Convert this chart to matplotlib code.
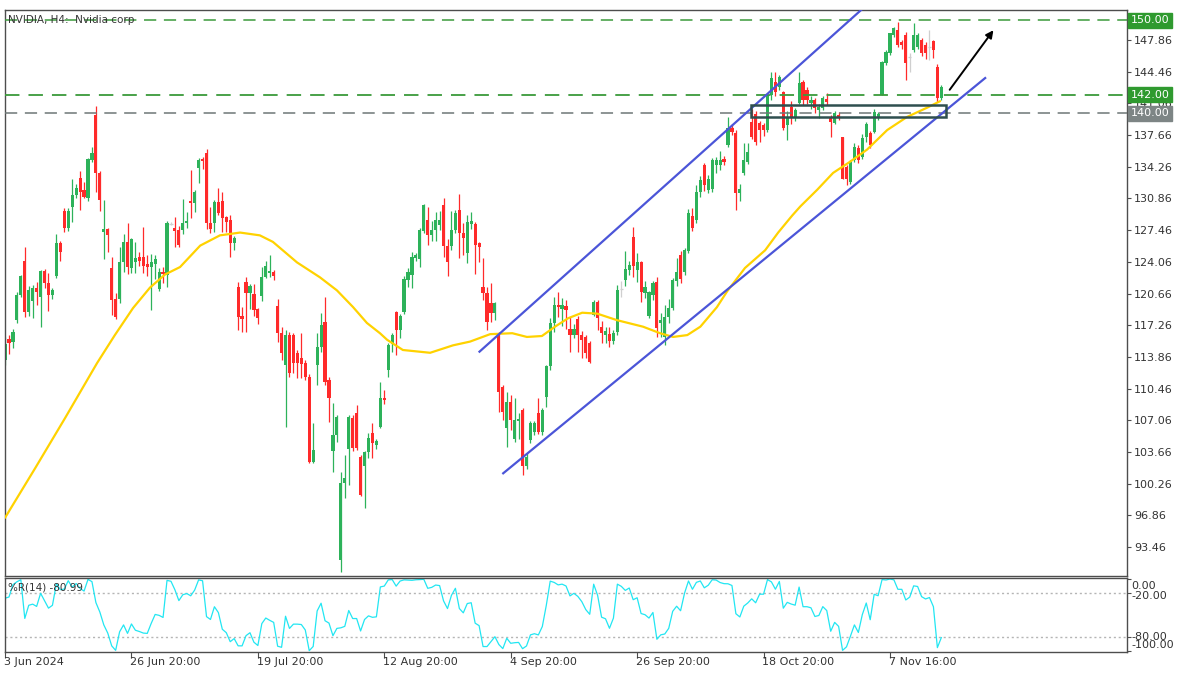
import numpy as np
import pandas as pd
import matplotlib
matplotlib.use("Agg")
import matplotlib.pyplot as plt
from matplotlib.patches import Rectangle

# NVIDIA H4 bars (bar index 0 = 3 Jun 2024 20:00)
opens = [113.5, 115.8, 115.5, 117.8, 120.5, 124.1, 118.7, 119.9, 121.3, 120.3,
         123.1, 121.8, 120.5, 122.5, 126.1, 129.5, 127.7, 129.9, 131.2, 133.1,
         131.8, 130.9, 135.0, 139.8, 133.6, 127.3, 127.6, 123.4, 120.1, 120.1,
         124.0, 126.2, 123.4, 124.0, 124.6, 124.6, 123.8, 123.5, 123.8, 121.1,
         123.0, 122.6, 128.1, 127.7, 127.5, 127.5, 128.2, 130.6, 130.4, 134.1,
         135.1, 135.7, 128.2, 128.2, 130.5, 130.6, 128.9, 128.5, 126.1, 121.4,
         118.2, 121.9, 120.7, 120.6, 119.0, 120.4, 122.4, 122.9, 123.0, 119.3,
         116.4, 113.0, 116.2, 116.2, 114.3, 113.7, 113.2, 111.7, 102.6, 113.0,
         114.9, 117.6, 111.4, 103.8, 105.5, 92.1, 100.3, 104.0, 107.3, 107.8,
         103.1, 102.1, 103.7, 105.7, 104.4, 106.3, 109.5, 112.5, 115.2, 118.7,
         116.7, 118.7, 122.1, 122.6, 124.5, 124.4, 127.4, 128.6, 126.9, 127.5,
         128.0, 130.2, 125.8, 125.8, 127.5, 129.6, 127.2, 125.0, 128.1, 128.1,
         126.1, 121.4, 120.7, 119.6, 118.6, 116.4, 110.6, 106.2, 109.0, 105.0,
         107.0, 108.2, 102.1, 104.9, 105.8, 107.8, 105.8, 109.6, 112.9, 117.5,
         119.4, 119.0, 119.3, 116.9, 116.2, 117.9, 116.2, 116.0, 115.4, 118.4,
         119.7, 117.1, 116.2, 116.3, 115.6, 116.5, 121.1, 122.1, 123.2, 126.7,
         123.2, 124.0, 120.7, 118.3, 120.5, 121.9, 117.5, 116.0, 118.1, 119.1,
         122.0, 124.8, 123.0, 125.2, 129.0, 128.5, 131.5, 134.4, 131.8, 131.9,
         134.4, 134.5, 135.1, 136.6, 138.4, 137.9, 131.4, 133.6, 134.8, 139.1,
         139.9, 139.0, 138.7, 138.2, 142.0, 143.4, 142.8, 142.3, 138.7, 140.7,
         139.6, 141.1, 143.4, 142.5, 141.1, 141.4, 140.4, 140.6, 141.5, 139.5,
         139.0, 139.8, 137.4, 134.2, 132.6, 135.0, 136.3, 135.3, 137.4, 137.9,
         138.0, 139.5, 142.0, 145.4, 146.5, 148.4, 148.9, 147.6, 148.4, 146.0,
         146.8, 147.1, 147.9, 147.3, 147.1, 147.8, 145.0, 141.6]
highs = [116.0, 116.2, 116.8, 120.8, 122.6, 125.6, 121.5, 121.6, 121.9, 123.2,
         123.3, 122.9, 121.3, 127.0, 126.3, 129.8, 129.8, 133.0, 132.4, 133.8,
         132.6, 135.2, 136.4, 140.8, 133.8, 130.7, 127.7, 124.6, 120.7, 125.6,
         127.0, 128.2, 126.6, 126.2, 125.1, 127.8, 124.8, 124.9, 124.8, 123.4,
         123.5, 128.4, 128.3, 128.9, 127.9, 130.8, 129.4, 133.9, 131.8, 135.2,
         135.3, 136.2, 129.9, 130.7, 132.0, 131.6, 129.0, 129.1, 126.8, 121.9,
         119.2, 122.4, 121.7, 121.7, 119.1, 123.5, 124.1, 124.8, 123.2, 120.1,
         117.1, 116.7, 116.5, 116.4, 114.6, 116.4, 113.5, 112.0, 106.8, 116.4,
         118.6, 120.3, 111.7, 108.9, 107.6, 101.5, 103.3, 107.6, 107.6, 108.7,
         103.3, 103.8, 105.7, 106.8, 105.0, 111.2, 110.3, 115.4, 116.4, 118.8,
         118.5, 122.5, 123.4, 125.1, 125.0, 127.7, 130.3, 129.9, 128.4, 129.4,
         129.5, 130.9, 126.5, 129.5, 129.6, 131.3, 128.2, 129.1, 129.4, 128.3,
         126.2, 124.5, 121.4, 121.8, 119.7, 116.5, 110.8, 110.1, 109.8, 109.5,
         107.8, 108.4, 103.6, 107.0, 107.0, 109.5, 108.4, 113.0, 118.0, 120.3,
         120.8, 120.2, 120.0, 118.1, 117.4, 118.3, 116.6, 116.2, 115.6, 120.0,
         120.0, 117.7, 117.1, 117.1, 116.7, 121.6, 122.0, 125.2, 124.2, 127.8,
         125.0, 124.2, 122.0, 120.9, 122.0, 122.4, 118.6, 119.4, 120.1, 122.3,
         124.5, 125.2, 125.5, 129.7, 129.8, 132.3, 133.3, 134.7, 133.4, 135.2,
         135.3, 135.9, 135.4, 139.6, 138.9, 138.2, 132.4, 136.8, 136.8, 140.5,
         140.2, 139.2, 139.0, 142.1, 144.4, 144.4, 144.1, 142.4, 140.2, 141.3,
         140.6, 144.4, 143.6, 142.8, 141.8, 141.6, 141.0, 141.8, 142.2, 139.8,
         140.2, 140.1, 137.4, 134.5, 135.0, 136.8, 136.6, 137.8, 139.1, 138.1,
         140.5, 140.1, 145.6, 146.8, 148.6, 149.3, 149.8, 147.9, 148.7, 146.5,
         149.7, 148.6, 148.1, 147.6, 148.9, 147.9, 145.3, 143.0]
lows = [113.0, 114.2, 114.8, 117.5, 120.3, 118.1, 118.3, 118.0, 119.4, 117.1,
        121.3, 118.8, 120.1, 122.3, 124.1, 127.3, 127.4, 128.3, 130.9, 129.6,
        130.9, 130.6, 134.8, 131.6, 129.5, 124.4, 125.1, 118.4, 117.9, 119.6,
        123.0, 122.7, 122.9, 122.9, 123.6, 122.9, 122.5, 118.9, 122.2, 120.9,
        121.8, 121.4, 128.0, 125.6, 125.6, 127.0, 127.7, 128.8, 129.4, 132.5,
        134.0, 127.6, 127.1, 127.3, 129.1, 127.3, 127.3, 124.6, 125.3, 116.7,
        116.5, 116.5, 119.0, 118.3, 117.4, 119.9, 122.3, 122.4, 122.1, 115.5,
        113.5, 106.3, 111.7, 112.1, 111.6, 111.6, 111.4, 102.5, 102.5, 110.8,
        114.4, 110.8, 106.9, 101.5, 104.7, 90.8, 98.7, 100.1, 103.8, 103.9,
        98.9, 97.6, 103.0, 103.0, 104.0, 106.2, 108.8, 111.7, 114.4, 114.1,
        115.9, 118.5, 121.4, 121.3, 124.2, 123.5, 127.2, 125.9, 126.3, 126.3,
        127.5, 124.6, 122.5, 125.3, 127.2, 124.5, 124.8, 123.9, 127.6, 122.7,
        124.0, 120.0, 116.7, 117.6, 117.8, 108.0, 107.1, 104.2, 106.0, 104.7,
        105.0, 101.2, 101.8, 104.6, 105.5, 105.6, 105.5, 108.5, 112.5, 116.5,
        118.1, 117.2, 116.9, 114.4, 115.9, 114.4, 113.7, 113.7, 113.2, 118.2,
        116.7, 115.4, 115.4, 114.9, 115.2, 116.2, 120.3, 121.5, 122.6, 122.4,
        121.9, 119.8, 120.2, 118.0, 120.0, 116.0, 116.0, 115.1, 117.5, 118.9,
        121.5, 121.8, 122.6, 125.0, 127.4, 128.2, 131.0, 131.7, 131.4, 131.6,
        133.6, 133.9, 134.5, 136.4, 137.7, 129.6, 130.6, 133.4, 134.6, 137.2,
        136.6, 136.9, 137.6, 138.0, 141.4, 141.8, 142.5, 138.2, 137.1, 138.9,
        139.2, 141.0, 140.9, 141.0, 140.5, 140.0, 139.5, 140.3, 140.9, 137.5,
        138.8, 139.3, 132.9, 132.3, 132.4, 134.8, 134.7, 135.1, 136.9, 136.3,
        137.9, 139.3, 142.0, 145.2, 146.3, 148.2, 147.1, 146.9, 143.6, 144.4,
        146.6, 146.9, 146.1, 145.8, 145.7, 145.9, 141.2, 141.4]
closes = [115.2, 115.4, 116.5, 120.5, 122.5, 118.7, 121.0, 121.2, 120.8, 123.1,
          121.8, 120.5, 121.0, 126.1, 125.1, 127.7, 129.5, 131.2, 132.0, 131.6,
          131.0, 135.1, 135.7, 133.6, 130.7, 127.6, 126.9, 120.0, 118.1, 124.0,
          126.2, 123.5, 126.5, 124.5, 124.1, 123.6, 123.5, 124.0, 124.4, 123.0,
          122.7, 128.2, 128.1, 127.4, 125.9, 128.2, 128.4, 130.4, 131.6, 135.0,
          134.9, 128.2, 127.6, 130.5, 129.3, 128.8, 128.3, 126.1, 126.6, 118.1,
          117.9, 120.7, 121.5, 118.9, 118.0, 122.4, 123.6, 123.1, 122.5, 116.4,
          114.3, 116.2, 112.1, 113.2, 113.2, 113.1, 111.7, 102.6, 103.9, 114.9,
          117.3, 111.2, 109.4, 105.5, 107.4, 100.3, 100.9, 107.4, 104.1, 104.1,
          99.0, 103.7, 105.2, 104.6, 104.8, 109.4, 109.2, 115.1, 116.2, 116.7,
          118.2, 122.2, 123.0, 124.6, 124.8, 127.5, 130.2, 126.9, 127.5, 128.5,
          128.6, 125.8, 124.0, 127.5, 129.3, 127.2, 126.6, 128.3, 128.4, 125.9,
          125.6, 120.7, 117.6, 118.6, 119.6, 110.1, 107.9, 109.0, 107.1, 107.1,
          107.2, 102.1, 103.1, 106.8, 106.8, 105.8, 108.2, 112.9, 117.5, 119.4,
          119.2, 119.4, 118.9, 116.2, 116.9, 116.2, 115.7, 114.3, 113.3, 119.7,
          118.0, 116.4, 116.6, 115.6, 116.4, 121.0, 121.1, 123.3, 123.7, 123.6,
          124.0, 120.8, 121.4, 120.8, 121.8, 117.0, 117.8, 118.1, 119.1, 122.1,
          123.0, 122.2, 125.3, 129.3, 127.7, 131.5, 132.8, 132.3, 133.0, 135.0,
          135.0, 135.0, 134.8, 138.4, 138.0, 131.4, 131.9, 135.0, 135.8, 137.5,
          136.9, 138.2, 138.2, 142.0, 143.8, 142.3, 143.9, 138.4, 139.6, 139.6,
          140.4, 143.3, 141.4, 141.4, 141.4, 140.6, 140.7, 141.6, 141.2, 139.1,
          140.0, 139.6, 133.0, 133.0, 134.8, 136.4, 135.0, 137.3, 138.9, 136.6,
          140.1, 139.9, 145.5, 146.6, 148.6, 149.1, 147.3, 147.3, 145.4, 146.0,
          148.4, 148.4, 146.5, 146.5, 147.1, 146.8, 141.6, 142.8]

# moving average line, read at points along the yellow curve
ma_idx = [0, 7.6, 15.2, 23.3, 27.8, 32.4, 36.7, 40.5, 44.3, 49.4, 54.4, 59.5,
          64.5, 67.8, 73.9, 79.7, 84, 88.1, 91.6, 94.9, 96.7, 100.7, 107.6,
          113.4, 117.7, 122.8, 128.4, 132.1, 135.9, 139.2, 142.5, 146.1, 149.9,
          154.9, 161.5, 165.8, 169.1, 172.7, 176, 180.2, 182.8, 187.3, 192.4,
          195.7, 199.2, 201.3, 205.6, 209.6, 213.9, 218.2, 223.3, 228.3, 233.4,
          236.7]
ma_val = [96.6, 101.9, 107.3, 113.2, 116.2, 119.1, 121.3, 122.7, 123.5, 125.8,
          126.9, 127.2, 126.9, 126.2, 124.0, 122.4, 121.0, 119.2, 117.5, 116.4,
          115.7, 114.6, 114.3, 115.1, 115.5, 116.3, 116.4, 116.0, 116.1, 117.1,
          118.0, 118.6, 118.5, 117.8, 117.1, 116.4, 116.0, 116.2, 117.1, 119.2,
          120.9, 123.4, 125.3, 127.2, 129.0, 130.0, 131.8, 133.6, 134.8, 136.1,
          138.2, 139.6, 140.6, 141.3]

tick_idx = [0, 32, 64, 96, 128, 160, 192, 224]
tick_labels = ["3 Jun 2024", "26 Jun 20:00", "19 Jul 20:00", "12 Aug 20:00",
               "4 Sep 20:00", "26 Sep 20:00", "18 Oct 20:00", "7 Nov 16:00"]
price_levels = [147.86, 144.46, 141.06, 137.66, 134.26, 130.86, 127.46, 124.06,
                120.66, 117.26, 113.86, 110.46, 107.06, 103.66, 100.26, 96.86, 93.46]

GREEN = "#2db25a"
RED = "#ff2a2a"
LINE_GREEN = "#3a9a3a"
FRAME = "#4d4d4d"

o = np.array(opens)
h = np.array(highs)
l = np.array(lows)
c = np.array(closes)
x = np.arange(len(c))

df = pd.DataFrame({"h": h, "l": l, "c": c})
hh = df["h"].rolling(14, min_periods=1).max()
ll = df["l"].rolling(14, min_periods=1).min()
wpr = (hh - df["c"]) / (hh - ll) * -100

W, H = 1191, 676
fig = plt.figure(figsize=(W / 100, H / 100), dpi=100)
ax = fig.add_axes([5 / W, 1 - 576 / H, 1122 / W, 566 / H])
ax2 = fig.add_axes([5 / W, 1 - 652 / H, 1122 / W, 74 / H])

xmax = 284.0
ax.set_xlim(-0.01, xmax)
ax.set_ylim(90.35, 151.08)

# candles
up = c > o
dn = c < o
fl = c == o
bw = 0.8
ax.vlines(x[up], l[up], h[up], color=GREEN, lw=0.9, zorder=2)
ax.vlines(x[dn], l[dn], h[dn], color=RED, lw=0.9, zorder=2)
ax.vlines(x[fl], l[fl], h[fl], color="#cfcfcf", lw=0.9, zorder=2)
ax.bar(x[up], c[up] - o[up], bottom=o[up], width=bw, color=GREEN, lw=0, zorder=2)
ax.bar(x[dn], o[dn] - c[dn], bottom=c[dn], width=bw, color=RED, lw=0, zorder=2)
ax.hlines(c[fl], x[fl] - bw / 2, x[fl] + bw / 2, color="#cfcfcf", lw=0.9, zorder=2)

ax.plot(ma_idx, ma_val, color="#ffd200", lw=1.6, zorder=3, solid_capstyle="round")

# horizontal levels
dash = (0, (8, 5))
ax.axhline(150.0, color=LINE_GREEN, ls=dash, lw=1.1, zorder=4)
ax.axhline(142.0, color=LINE_GREEN, ls=dash, lw=1.3, zorder=4)
ax.axhline(140.0, color="#6e7777", ls=dash, lw=1.1, zorder=4)

# channel lines
ax.plot([120.1, 216.7], [114.42, 151.08], color="#4b55d8", lw=1.6, zorder=5)
ax.plot([126.1, 248.1], [101.37, 143.78], color="#4b55d8", lw=1.6, zorder=5)

# zone box
ax.add_patch(Rectangle((188.8, 139.63), 238.1 - 188.8, 140.9 - 139.63,
                       fill=False, ec="#2f4f4f", lw=1.8, zorder=6))

ax.annotate("", xy=(250.6, 149.15), xytext=(238.7, 142.28),
            arrowprops=dict(arrowstyle="-|>", color="black", lw=1.4,
                            mutation_scale=11), zorder=7)

ax.text(3 / 1122, 150.0, "NVIDIA, H4:  Nvidia corp", transform=ax.get_yaxis_transform(),
        fontsize=7.5, color="#333333", va="center", ha="left", zorder=8)

# price scale
ax.set_xticks([])
ax.set_yticks(price_levels)
ax.set_yticklabels([f"{v:.2f}" for v in price_levels])
ax.yaxis.tick_right()
ax.tick_params(axis="y", length=3, width=0.8, pad=2, labelsize=8,
               colors="#333333", color=FRAME)
for val, fc, tc in [(150.0, "#2f9a2f", "white"), (142.0, "#2f9a2f", "white"),
                    (140.0, "#7d8585", "white")]:
    ax.text(1.0035, val, f"{val:.2f}", transform=ax.get_yaxis_transform(),
            ha="left", va="center", fontsize=8, color=tc, clip_on=False, zorder=10,
            bbox=dict(boxstyle="square,pad=0.22", fc=fc, ec=fc))

for sp in ax.spines.values():
    sp.set_color(FRAME)
    sp.set_linewidth(1.0)

# Williams %R panel
ax2.set_xlim(-0.01, xmax)
ax2.set_ylim(-101.4, 1.4)
ax2.axhline(-20, color="#b5b5b5", ls=(0, (1.5, 2)), lw=1.0)
ax2.axhline(-80, color="#b5b5b5", ls=(0, (1.5, 2)), lw=1.0)
ax2.plot(x, wpr, color="#22e6f2", lw=0.9)
ax2.text(3 / 1122, -12, "%R(14) -80.99", transform=ax2.get_yaxis_transform(),
         fontsize=7.5, color="#333333", va="center", ha="left")
ax2.set_yticks([0, -20, -80, -100])
ax2.set_yticklabels([])
ax2.yaxis.tick_right()
ax2.tick_params(axis="y", length=3, width=0.8, color=FRAME)
for txt, ypx in [("0.00", 586), ("-20.00", 596), ("-80.00", 637), ("-100.00", 645)]:
    fig.text(1131 / W, 1 - ypx / H, txt, fontsize=8, color="#333333",
             va="center", ha="left")
ax2.set_xticks(tick_idx)
ax2.set_xticklabels([])
ax2.tick_params(axis="x", length=4, width=0.8, color=FRAME)
for ti, lab in zip(tick_idx, tick_labels):
    ax2.text(ti - 0.3, -0.135, lab, transform=ax2.get_xaxis_transform(),
             fontsize=8, color="#333333", va="center", ha="left")
for sp in ax2.spines.values():
    sp.set_color(FRAME)
    sp.set_linewidth(1.0)

fig.savefig("out.png", dpi=100)
